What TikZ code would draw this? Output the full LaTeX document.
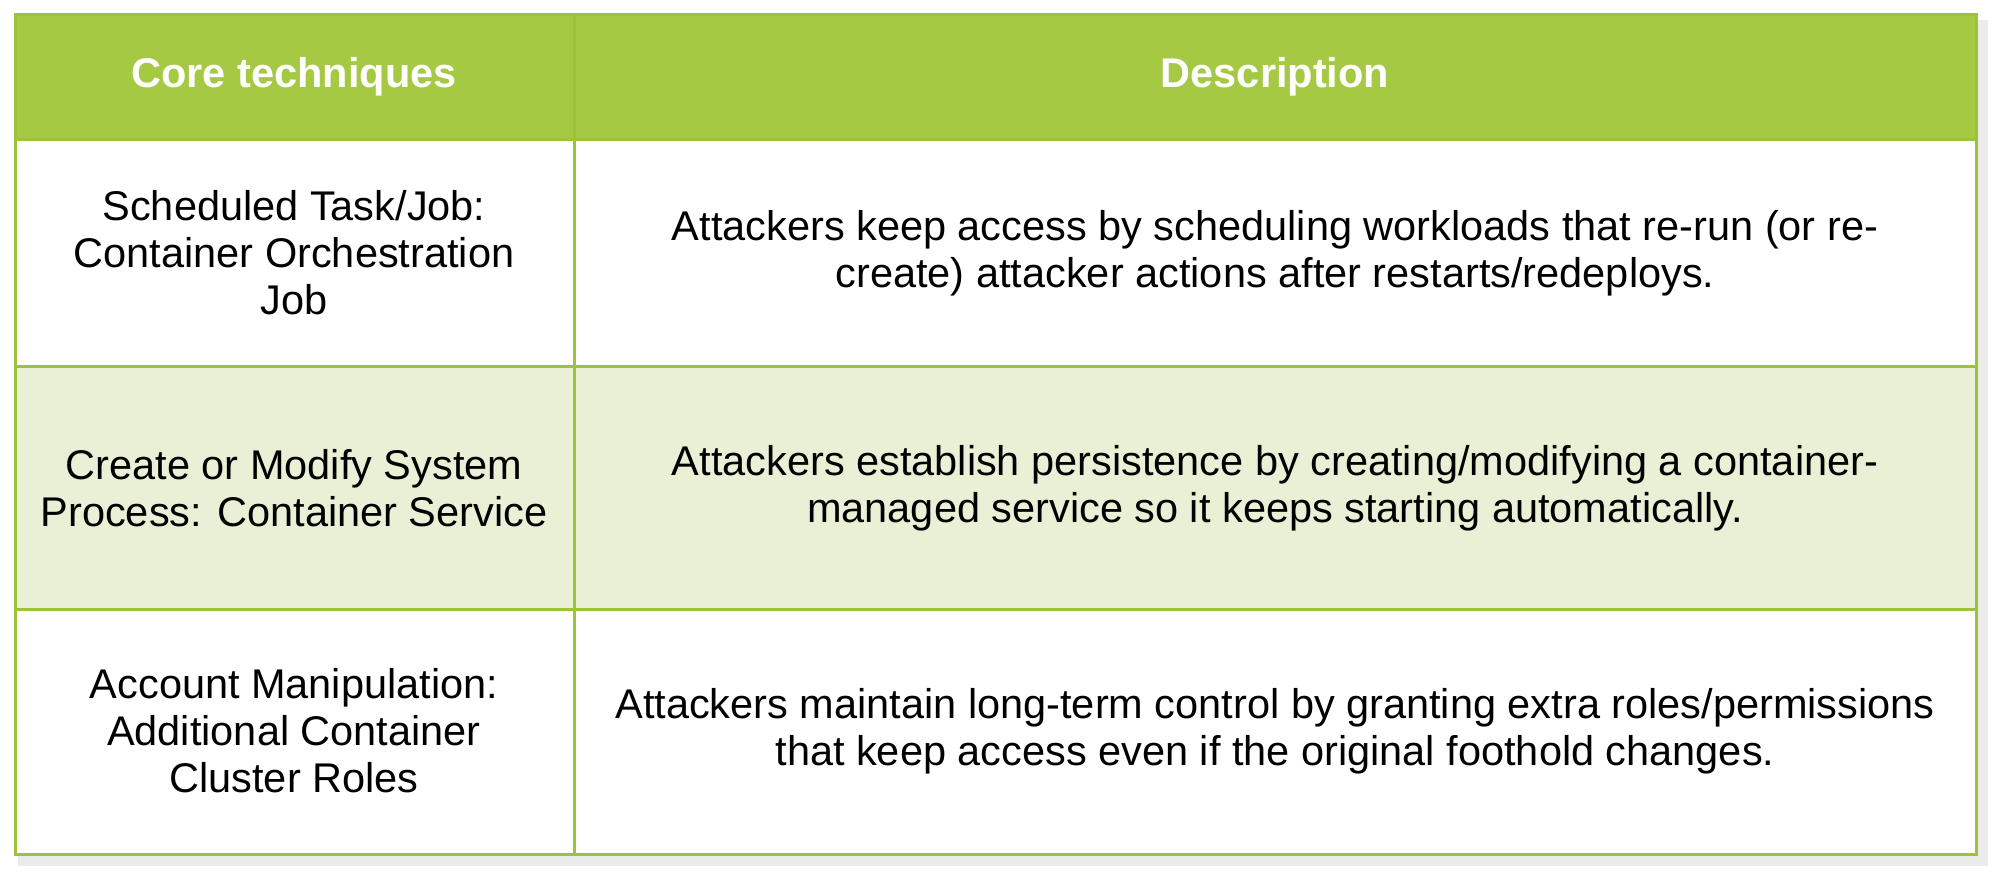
\documentclass[tikz,border=0pt]{standalone}
\usepackage{fontspec}
\setmainfont{Liberation Sans}
\definecolor{hdr}{HTML}{A6C944}
\definecolor{brd}{HTML}{9DC33B}
\definecolor{alt}{HTML}{EAF0D5}
\begin{document}
\begin{tikzpicture}[x=1pt,y=-1pt,
  cell/.style={align=center,font=\fontsize{41.5}{47}\selectfont,text=black},
  head/.style={cell,text=white,font=\fontsize{41.5}{47}\selectfont\bfseries}]
\useasboundingbox (0,0) rectangle (1999,885);
\fill[black!12] (20,22) rectangle (1984,862);
\fill[black!8] (18,20) rectangle (1988,866);
\fill[white] (15,15) rectangle (1976,854);
\fill[hdr] (15,15) rectangle (1976,140);
\fill[alt] (15,366) rectangle (1976,609);
\draw[brd,line width=3pt] (15,15) rectangle (1976,854);
\draw[brd,line width=3pt] (574,15) -- (574,854);
\draw[brd,line width=3pt] (15,140) -- (1976,140);
\draw[brd,line width=3pt] (15,366) -- (1976,366);
\draw[brd,line width=3pt] (15,609) -- (1976,609);
\node[head] (h1) at (294,77) {Core techniques};
\node[head] (h2) at (1275,77) {Description};
\node[cell] (a1) at (294,253) {Scheduled Task/Job:\\Container Orchestration\\Job};
\node[cell] (b1) at (1275,253) {Attackers keep access by scheduling workloads that re-run (or re-\\create) attacker actions after restarts/redeploys.};
\node[cell] (a2) at (294,488) {Create or Modify System\\Process: Container Service};
\node[cell] (b2) at (1275,488) {Attackers establish persistence by creating/modifying a container-\\managed service so it keeps starting automatically.};
\node[cell] (a3) at (294,731) {Account Manipulation:\\Additional Container\\Cluster Roles};
\node[cell] (b3) at (1275,731) {Attackers maintain long-term control by granting extra roles/permissions\\that keep access even if the original foothold changes.};
\end{tikzpicture}
\end{document}
